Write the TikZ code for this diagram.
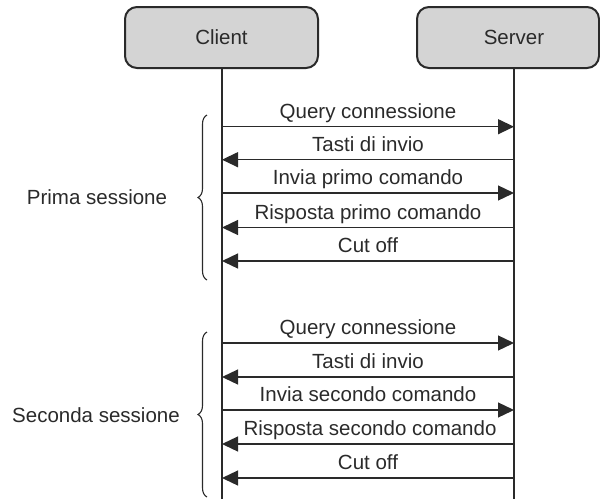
\documentclass[tikz,border=0pt]{standalone}
\usepackage{fontspec}
\setmainfont{Liberation Sans}
\usetikzlibrary{arrows.meta,decorations.pathreplacing}
\definecolor{boxfill}{HTML}{D4D4D4}
\definecolor{ink}{HTML}{2A2A2A}
\begin{document}
\begin{tikzpicture}[x=1pt,y=-1pt,
  every node/.style={font=\fontsize{20.5}{24}\selectfont, text=ink},
  box/.style={draw=ink, line width=2pt, fill=boxfill, rounded corners=12pt, minimum height=61pt, inner sep=0pt},
  life/.style={draw=ink, line width=1.3pt},
  msg/.style={draw=ink, line width=1.3pt, -{Triangle[length=16pt,width=15pt]}},
  lbl/.style={anchor=base, yshift=8.5pt, inner sep=0pt},
  brc/.style={draw=ink, line width=1.1pt, decorate, decoration={brace, amplitude=9pt}}]
\useasboundingbox (0,0) rectangle (600,499);
% participants
\node[box, minimum width=193pt] (client) at (221.5,37.5) {Client};
\node[box, minimum width=182pt] (server) at (508,37.5) {\hspace{12pt}Server};
\coordinate (cb) at (222,499);
\coordinate (sb) at (514,499);
\draw[life] (client.south -| cb) -- (cb);
\draw[life] (server.south -| sb) -- (sb);
% message points
\foreach \i/\y in {1/126.7,2/159.7,3/193,4/227.5,5/261,6/343,7/377,8/410,9/444,10/478}{
  \coordinate (c\i) at (222,\y);
  \coordinate (s\i) at (514,\y);
}
% first session
\draw[msg] (c1) -- node[lbl] {Query connessione} (s1);
\draw[msg] (s2) -- node[lbl] {Tasti di invio} (c2);
\draw[msg] (c3) -- node[lbl] {Invia primo comando} (s3);
\draw[msg] (s4) -- node[lbl] {Risposta primo comando} (c4);
\draw[msg] (s5) -- node[lbl] {Cut off} (c5);
% second session
\draw[msg] (c6) -- node[lbl] {Query connessione} (s6);
\draw[msg] (s7) -- node[lbl] {Tasti di invio} (c7);
\draw[msg] (c8) -- node[lbl] {Invia secondo comando} (s8);
\draw[msg] (s9) -- node[lbl, xshift=2pt] {Risposta secondo comando} (c9);
\draw[msg] (s10) -- node[lbl] {Cut off} (c10);
% braces
\coordinate (b1t) at (207,115);
\coordinate (b1b) at (207,280);
\coordinate (b2t) at (207,332);
\coordinate (b2b) at (207,497);
\draw[brc] (b1b) -- (b1t);
\draw[brc] (b2b) -- (b2t);
\node (prima) at (97,197) {Prima sessione};
\node (seconda) at (96,415) {Seconda sessione};
\end{tikzpicture}
\end{document}
